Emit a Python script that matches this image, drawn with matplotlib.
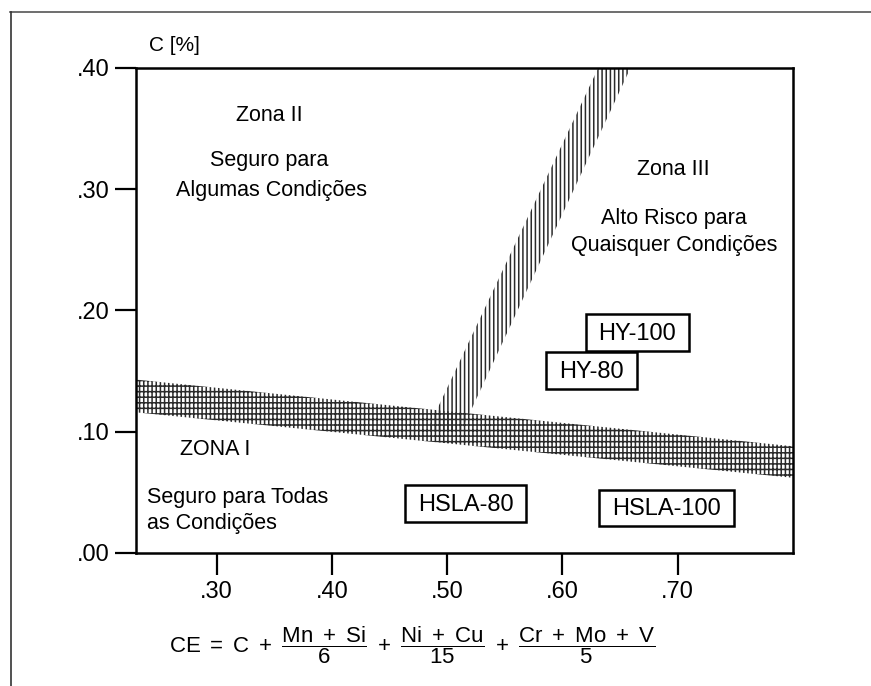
import matplotlib
matplotlib.use("Agg")
import matplotlib.pyplot as plt
from matplotlib.lines import Line2D
from matplotlib.path import Path

plt.rcParams['font.family'] = ['Liberation Sans', 'DejaVu Sans']
plt.rcParams['mathtext.fontset'] = 'custom'
plt.rcParams['mathtext.rm'] = 'Liberation Sans'
plt.rcParams['mathtext.it'] = 'Liberation Sans:italic'
plt.rcParams['mathtext.bf'] = 'Liberation Sans:bold'
plt.rcParams['hatch.linewidth'] = 1.1

# ---- data ----
ce_ticks = [0.30, 0.40, 0.50, 0.60, 0.70]
ce_tick_labels = ['.30', '.40', '.50', '.60', '.70']
c_ticks = [0.00, 0.10, 0.20, 0.30, 0.40]
c_tick_labels = ['.00', '.10', '.20', '.30', '.40']

band_ce = [0.23, 0.80]
band_upper = [0.143, 0.088]
band_lower = [0.116, 0.062]

diag_c = [0.10, 0.40]
diag_left = [0.482, 0.631]
diag_right = [0.512, 0.659]

steels = ['HY-100', 'HY-80', 'HSLA-80', 'HSLA-100']
steel_ce = [0.665, 0.625, 0.516, 0.690]
steel_c = [0.1805, 0.1495, 0.0395, 0.036]

# ---- figure ----
fig = plt.figure(figsize=(8.71, 6.86), dpi=100)
ax = fig.add_axes([0.1561, 0.1939, 0.7544, 0.7070])
ax.set_xlim(0.23, 0.80)
ax.set_ylim(0.0, 0.40)

ax.fill_between(band_ce, band_lower, band_upper, facecolor='none',
                edgecolor='#2a2a2a', hatch='||||---', linewidth=0)
ax.fill_betweenx(diag_c, diag_left, diag_right, facecolor='none',
                 edgecolor='#2a2a2a', hatch='||||', linewidth=0)


def wide_box(x0, y0, width, height, mutation_size):
    px = 0.55 * mutation_size
    pt = 0.37 * mutation_size
    pb = 0.25 * mutation_size
    xa, ya = x0 - px, y0 - pb
    xb, yb = x0 + width + px, y0 + height + pt
    return Path([(xa, ya), (xb, ya), (xb, yb), (xa, yb), (xa, ya)],
                closed=True)


for name, xv, yv in zip(steels, steel_ce, steel_c):
    ax.text(xv, yv, name, ha='center', va='center', fontsize=17,
            bbox=dict(boxstyle=wide_box, facecolor='white',
                      edgecolor='black', linewidth=1.8), zorder=5)

zfs = 15.5
ax.text(0.346, 0.361, 'Zona II', ha='center', va='center', fontsize=zfs)
ax.text(0.346, 0.324, 'Seguro para', ha='center', va='center', fontsize=zfs)
ax.text(0.348, 0.299, 'Algumas Condições', ha='center', va='center', fontsize=zfs)
ax.text(0.6965, 0.316, 'Zona III', ha='center', va='center', fontsize=zfs)
ax.text(0.6965, 0.276, 'Alto Risco para', ha='center', va='center', fontsize=zfs)
ax.text(0.6965, 0.254, 'Quaisquer Condições', ha='center', va='center', fontsize=zfs)
ax.text(0.2983, 0.085, 'ZONA I', ha='center', va='center', fontsize=zfs)
ax.text(0.240, 0.046, 'Seguro para Todas', ha='left', va='center', fontsize=zfs)
ax.text(0.240, 0.024, 'as Condições', ha='left', va='center', fontsize=zfs)

# axes styling
for s in ax.spines.values():
    s.set_linewidth(1.8)
ax.set_xticks(ce_ticks)
ax.set_xticklabels(ce_tick_labels)
ax.set_yticks(c_ticks)
ax.set_yticklabels(c_tick_labels)
ax.tick_params(axis='x', direction='out', length=16, width=1.6, pad=4,
               labelsize=17)
ax.tick_params(axis='y', direction='out', length=15, width=1.6, pad=4,
               labelsize=17)

ax.set_ylabel('C [%]', rotation=0, fontsize=15)
ax.yaxis.set_label_coords(0.059, 1.047)
ax.yaxis.label.set_ha('center')
ax.yaxis.label.set_va('center')

ax.set_xlabel(r'$\mathrm{CE\ =\ C\ +\ }\dfrac{\mathrm{Mn\ +\ Si}}{\mathrm{6}}'
              r'\mathrm{\ +\ }\dfrac{\mathrm{Ni\ +\ Cu}}{\mathrm{15}}'
              r'\mathrm{\ +\ }\dfrac{\mathrm{Cr\ +\ Mo\ +\ V}}{\mathrm{5}}$',
              fontsize=16)
ax.xaxis.set_label_coords(0.42, -0.19)
ax.xaxis.label.set_va('center')

# outer page frame
fig.add_artist(Line2D([10 / 871, 1.0], [1 - 12 / 686, 1 - 12 / 686],
                      transform=fig.transFigure, color='#555555', lw=1.2))
fig.add_artist(Line2D([11 / 871, 11 / 871], [0.0, 1 - 12 / 686],
                      transform=fig.transFigure, color='#333333', lw=1.2))

fig.savefig('out.png', dpi=100)
